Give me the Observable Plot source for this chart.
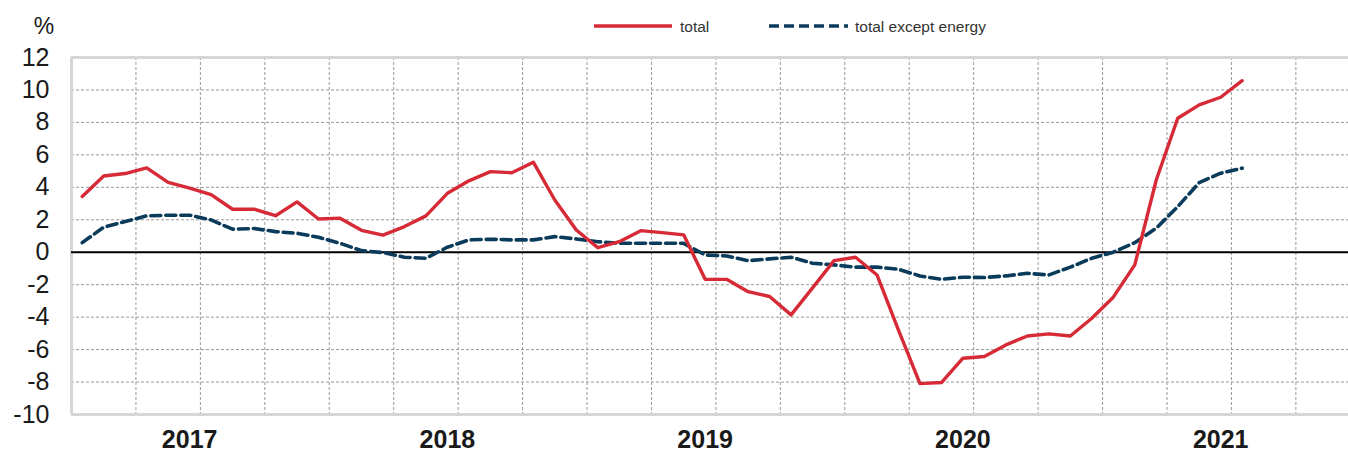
<!DOCTYPE html>
<html>
<head>
<meta charset="utf-8">
<script src="https://cdn.jsdelivr.net/npm/d3@7"></script>
<script src="https://cdn.jsdelivr.net/npm/@observablehq/plot@0.6"></script>
<style>
  html, body { margin: 0; padding: 0; background: #fff; }
  #wrap { position: relative; width: 1348px; height: 452px; overflow: hidden; }
</style>
</head>
<body>
<div id="wrap"></div>
<script>
// Monthly year-on-year change, %, Jan 2017 – Jul 2021
const startYear = 2017;
const total = [3.43, 4.7, 4.85, 5.2, 4.3, 3.95, 3.55, 2.65, 2.65, 2.25, 3.1, 2.05,
  2.1, 1.35, 1.05, 1.58, 2.24, 3.63, 4.4, 4.97, 4.9, 5.55, 3.22, 1.37,
  0.28, 0.65, 1.33, 1.21, 1.07, -1.67, -1.67, -2.43, -2.73, -3.86, -2.2, -0.52,
  -0.31, -1.4, -4.8, -8.1, -8.03, -6.53, -6.43, -5.71, -5.16, -5.03, -5.16, -4.07,
  -2.77, -0.78, 4.45, 8.26, 9.08, 9.55, 10.57];
const exceptEnergy = [0.59, 1.54, 1.89, 2.24, 2.28, 2.28, 1.99, 1.42, 1.46, 1.27, 1.17, 0.92,
  0.55, 0.1, -0.02, -0.31, -0.37, 0.31, 0.76, 0.8, 0.76, 0.76, 0.96, 0.82,
  0.65, 0.55, 0.55, 0.55, 0.55, -0.17, -0.23, -0.52, -0.41, -0.31, -0.68, -0.78,
  -0.92, -0.92, -1.05, -1.46, -1.67, -1.54, -1.56, -1.46, -1.3, -1.4, -0.92, -0.37,
  0.0, 0.59, 1.48, 2.81, 4.29, 4.87, 5.18];
const years = [2017, 2018, 2019, 2020, 2021];
const yTicks = [-10, -8, -6, -4, -2, 0, 2, 4, 6, 8, 10, 12];
const seriesNames = ["total", "total except energy"];
const unitLabel = "%";

const colors = { total: "#d62a36", except: "#0b3b5b" };
const narrow = '"Liberation Sans Narrow", "Arial Narrow", "Liberation Sans", Arial, sans-serif';

// month index: 0 = start of Jan 2017; a month's point sits at its centre
const rows = total.map((v, i) => ({ m: i + 0.5, total: v, except: exceptEnergy[i] }));
const quarterTicks = d3.range(3, 60, 3);
const yearCenters = years.map(y => (y - startYear) * 12 + 5.5);

const chart = Plot.plot({
  width: 1348,
  height: 452,
  marginLeft: 71,
  marginRight: 0,
  marginTop: 57,
  marginBottom: 38,
  style: { fontFamily: narrow, fontSize: "25px", color: "#1a1a1a", background: "#fff" },
  x: { domain: [0, 59.45], axis: null },
  y: { domain: [-10, 12], axis: null },
  marks: [
    Plot.gridX(quarterTicks, { stroke: "#999", strokeOpacity: 1, strokeWidth: 1, strokeDasharray: "3,2" }),
    Plot.gridY(yTicks, { stroke: "#999", strokeOpacity: 1, strokeWidth: 1, strokeDasharray: "3,2" }),
    Plot.ruleY([12, -10], { stroke: "#d6d6d6", strokeWidth: 3 }),
    Plot.ruleX([0], { stroke: "#d6d6d6", strokeWidth: 3 }),
    Plot.ruleY([0], { stroke: "#000", strokeWidth: 2 }),
    Plot.axisY(yTicks, { tickSize: 0, tickPadding: 22, tickFormat: d => String(d), label: null,
      fontSize: 25, fontFamily: narrow }),
    Plot.axisX(yearCenters, { tickSize: 0, tickPadding: 16, tickFormat: (d, i) => String(years[i]), label: null,
      fontSize: 25, fontWeight: "bold", fontFamily: '"Liberation Sans", Arial, sans-serif' }),
    Plot.line(rows, { x: "m", y: "except", stroke: colors.except, strokeWidth: 3.6,
      strokeDasharray: "10,5" }),
    Plot.line(rows, { x: "m", y: "total", stroke: colors.total, strokeWidth: 3.4,
      strokeLinejoin: "round" })
  ]
});

document.getElementById("wrap").appendChild(chart);

// unit label and legend, drawn above the frame
const svg = d3.select(chart);
svg.append("text")
  .attr("x", 44).attr("y", 34)
  .attr("text-anchor", "middle")
  .style("font-family", narrow).style("font-size", "23px").attr("fill", "#1a1a1a")
  .text(unitLabel);

const legend = svg.append("g").style("font-family", narrow).style("font-size", "15.5px")
  .attr("text-anchor", "start");
const items = [
  { name: seriesNames[0], color: colors.total, dash: null, x0: 594, x1: 672, tx: 680 },
  { name: seriesNames[1], color: colors.except, dash: "10,5", x0: 769, x1: 848, tx: 855 }
];
items.forEach(it => {
  legend.append("line")
    .attr("x1", it.x0).attr("x2", it.x1).attr("y1", 26).attr("y2", 26)
    .attr("stroke", it.color).attr("stroke-width", 3.6)
    .attr("stroke-dasharray", it.dash);
  legend.append("text")
    .attr("x", it.tx).attr("y", 31.5)
    .attr("text-anchor", "start")
    .attr("fill", "#333")
    .text(it.name);
});
</script>
</body>
</html>
